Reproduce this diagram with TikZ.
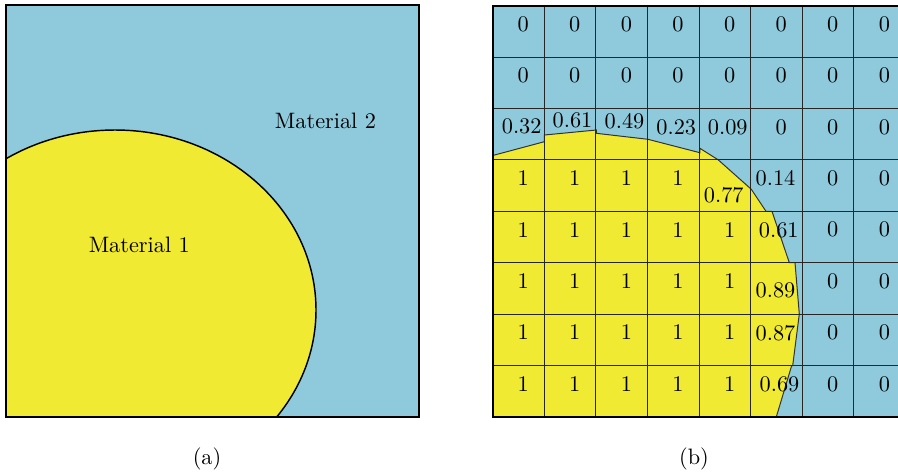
\documentclass[tikz,border=0pt]{standalone}
\definecolor{matblue}{RGB}{142,202,220}
\definecolor{matyellow}{RGB}{241,234,50}
\tikzset{
  frame/.style={draw=black, line width=0.9pt},
  gridline/.style={draw=black!85, line width=0.45pt},
  iface/.style={draw=black!80, line width=0.45pt},
  val/.style={inner sep=0pt, anchor=center},
  lbl/.style={inner sep=0pt, anchor=center}
}
\begin{document}
\begin{tikzpicture}[x=0.4485pt,y=-0.4485pt]
\useasboundingbox (0,0) rectangle (898,474);
% ---------- panel (a) ----------
\fill[matblue] (6,5) rectangle (419,417);
\begin{scope}
  \clip (6,5) rectangle (419,417);
  \filldraw[fill=matyellow, draw=black, line width=0.65pt] (115,310) ellipse [x radius=201, y radius=180];
\end{scope}
\draw[frame] (6,5) rectangle (419,417);
\node[lbl] (m2) at (325.5,121) {Material 2};
\node[lbl] (m1) at (139.3,244.5) {Material 1};
\node[lbl] (capa) at (207,459) {(a)};
% ---------- panel (b) ----------
\begin{scope}
  \clip (0,0) rectangle (898,474);
  \fill[matblue] (492.7,5.6) rectangle (905.5,416.9);
  \filldraw[fill=matyellow, iface]
    (492.7,416.9) -- (492.7,155.5) -- (544.3,141.7) -- (544.3,135) -- (596.3,130)
    -- (596.3,133.3) -- (648,139.3) -- (699.9,152.7) -- (699.9,148.3) -- (718.3,159.9)
    -- (751.3,189.3) -- (766,211.3) -- (772,211.3) -- (789.3,262.7) -- (795,262.7)
    -- (799.3,314.1) -- (792.7,365.5) -- (791.7,365.5) -- (776.3,416.9) -- cycle;
  \foreach \i in {1,...,7} {
    \draw[gridline] ({492.7+51.6*\i},5.6) -- ({492.7+51.6*\i},416.9);
    \draw[gridline] (492.7,{5.6+51.4*\i}) -- (905.5,{5.6+51.4*\i});
  }
  \draw[frame] (492.7,5.6) rectangle (905.5,416.9);
\end{scope}
% cell values
\foreach \r in {0,1} \foreach \c in {0,...,7}
  \node[val] (v\r\c) at ({523.2+51.6*\c},{24.1+51.4*\r}) {0};
\foreach \r in {2,...,7} \foreach \c in {6,7}
  \node[val] (v\r\c) at ({523.2+51.6*\c},{24.1+51.4*\r}) {0};
\node[val] (v25) at ({523.2+51.6*5},{24.1+51.4*2}) {0};
\foreach \r in {3,...,7} \foreach \c in {0,...,3}
  \node[val] (v\r\c) at ({523.2+51.6*\c},{24.1+51.4*\r}) {1};
\foreach \r in {4,...,7}
  \node[val] (v\r4) at ({523.2+51.6*4},{24.1+51.4*\r}) {1};
\node[val] (v20) at (521.7,126) {0.32};
\node[val] (v21) at (572.5,120.8) {0.61};
\node[val] (v22) at (624.5,120.8) {0.49};
\node[val] (v23) at (676.3,127.5) {0.23};
\node[val] (v24) at (727.8,127.5) {0.09};
\node[val] (v34) at (723.8,195.5) {0.77};
\node[val] (v35) at (775.5,178.3) {0.14};
\node[val] (v45) at (778.8,230) {0.61};
\node[val] (v55) at (775.5,290) {0.89};
\node[val] (v65) at (775.5,333.3) {0.87};
\node[val] (v75) at (779.5,384.3) {0.69};
\node[lbl] (capb) at (694,459) {(b)};
\end{tikzpicture}
\end{document}
